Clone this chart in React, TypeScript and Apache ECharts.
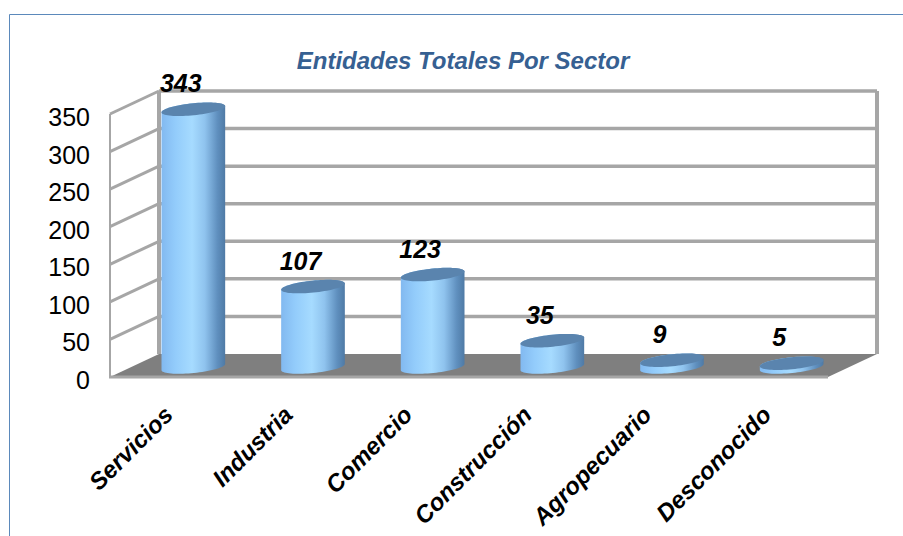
import React, { useEffect, useRef } from "react";
import * as echarts from "echarts";

const categories = ["Servicios", "Industria", "Comercio", "Construcción", "Agropecuario", "Desconocido"];
const values = [343, 107, 123, 35, 9, 5];
const yTicks = [0, 50, 100, 150, 200, 250, 300, 350];
const chartTitle = "Entidades Totales Por Sector";

const FONT = '"Liberation Sans", Arial, sans-serif';
const DEPTH_X = 49;
const DEPTH_Y = -23;
const WALL = "#a6a6a6";

function ellipsePts(cx: number, cy: number, rx: number, ry: number, tilt: number, from: number, to: number, n: number) {
  const pts: number[][] = [];
  const c = Math.cos(tilt);
  const s = Math.sin(tilt);
  for (let i = 0; i <= n; i++) {
    const t = from + ((to - from) * i) / n;
    const ex = rx * Math.cos(t);
    const ey = ry * Math.sin(t);
    pts.push([cx + ex * c - ey * s, cy + ex * s + ey * c]);
  }
  return pts;
}

export default function App() {
  const ref = useRef<HTMLDivElement>(null);
  useEffect(() => {
    const chart = echarts.init(ref.current!, null, { renderer: "svg" });
    const sideFill = new echarts.graphic.LinearGradient(0, 0, 1, 0, [
      { offset: 0, color: "#82b9f0" },
      { offset: 0.22, color: "#93ccfb" },
      { offset: 0.48, color: "#a6dbff" },
      { offset: 0.68, color: "#8fc3ee" },
      { offset: 0.88, color: "#5f8fbe" },
      { offset: 1, color: "#4f7aa5" },
    ]);
    const line = (x1: number, y1: number, x2: number, y2: number, lineWidth: number) => ({
      type: "line",
      shape: { x1, y1, x2, y2 },
      style: { stroke: WALL, lineWidth },
      silent: true,
    });
    chart.setOption({
      animation: false,
      backgroundColor: "#ffffff",
      title: {
        text: chartTitle,
        left: 458,
        top: 43,
        textAlign: "center",
        textStyle: { fontFamily: FONT, fontSize: 24, fontWeight: "bold", fontStyle: "italic", color: "#366092" },
      },
      graphic: [
        { type: "line", shape: { x1: 9.5, y1: 14.5, x2: 903, y2: 14.5 }, style: { stroke: "#5b89bb", lineWidth: 1 } },
        { type: "line", shape: { x1: 9.5, y1: 14.5, x2: 9.5, y2: 536 }, style: { stroke: "#5b89bb", lineWidth: 1 } },
      ],
      grid: { left: 110, right: 75, top: 114, bottom: 159, containLabel: false },
      xAxis: {
        type: "category",
        data: categories,
        axisLine: { show: false },
        axisTick: { show: false },
        axisLabel: {
          rotate: 45,
          interval: 0,
          margin: 32,
          padding: [0, 2, 0, 0],
          fontFamily: FONT,
          fontSize: 24,
          fontWeight: "bold",
          fontStyle: "italic",
          color: "#000000",
        },
      },
      yAxis: {
        type: "value",
        min: 0,
        max: 350,
        interval: 50,
        splitLine: { show: false },
        axisLine: { show: false },
        axisTick: { show: false },
        axisLabel: {
          margin: 20,
          formatter: "{a|{value}}",
          rich: { a: { padding: [6, 0, 0, 0], fontFamily: FONT, fontSize: 25, color: "#000000" } },
        },
      },
      series: [
        {
          type: "custom",
          z: 1,
          silent: true,
          data: yTicks,
          encode: { y: 0 },
          renderItem: (params: any, api: any) => {
            const v = api.value(0);
            const y = api.coord([0, v])[1];
            const cs = params.coordSys;
            const L = cs.x;
            const R = cs.x + cs.width;
            const children: any[] = [];
            if (v === 0) {
              children.push({
                type: "polygon",
                shape: { points: [[L, y], [R, y], [R + DEPTH_X, y + DEPTH_Y], [L + DEPTH_X, y + DEPTH_Y]] },
                style: { fill: "#7f7f7f" },
              });
              children.push(line(L - 1, y, R, y, 3));
              children.push(line(L, y, L, cs.y, 2));
              children.push(line(L + DEPTH_X, y + DEPTH_Y, L + DEPTH_X, cs.y + DEPTH_Y, 4));
              children.push(line(R + DEPTH_X, y + DEPTH_Y, R + DEPTH_X, cs.y + DEPTH_Y, 4));
            } else {
              children.push(line(L, y, L + DEPTH_X, y + DEPTH_Y, 3));
              children.push(line(L + DEPTH_X, y + DEPTH_Y, R + DEPTH_X, y + DEPTH_Y, 3.5));
            }
            return { type: "group", children };
          },
        },
        {
          type: "custom",
          z: 2,
          silent: true,
          data: values.map((v, i) => [i, v]),
          encode: { x: 0, y: 1 },
          renderItem: (_params: any, api: any) => {
            const i = api.value(0);
            const v = api.value(1);
            const front = api.coord([i, v]);
            const base = api.coord([i, 0]);
            const cx = base[0] + 23.5;
            const rx = 32;
            const ry = 6;
            const tilt = -0.1;
            const yBase = base[1] - 10;
            const yTop = front[1] - 10;
            const side = [
              ...ellipsePts(cx, yBase, rx, ry, tilt, Math.PI, 0, 36),
              ...ellipsePts(cx, yTop, rx, ry, tilt, 0, -Math.PI, 36),
            ];
            return {
              type: "group",
              children: [
                { type: "polygon", shape: { points: side }, style: { fill: sideFill } },
                {
                  type: "polygon",
                  shape: { points: ellipsePts(cx, yTop, rx, ry, tilt, 0, Math.PI * 2, 72) },
                  style: { fill: "#5a84ae" },
                },
                {
                  type: "text",
                  style: {
                    text: String(v),
                    x: base[0] + 11,
                    y: front[1] - 36,
                    textAlign: "center",
                    textVerticalAlign: "middle",
                    font: `italic bold 25px ${FONT}`,
                    fill: "#000000",
                  },
                },
              ],
            };
          },
        },
      ],
    });
    return () => chart.dispose();
  }, []);
  return <div ref={ref} style={{ position: "absolute", left: 0, top: 0, width: 903, height: 536 }} />;
}
